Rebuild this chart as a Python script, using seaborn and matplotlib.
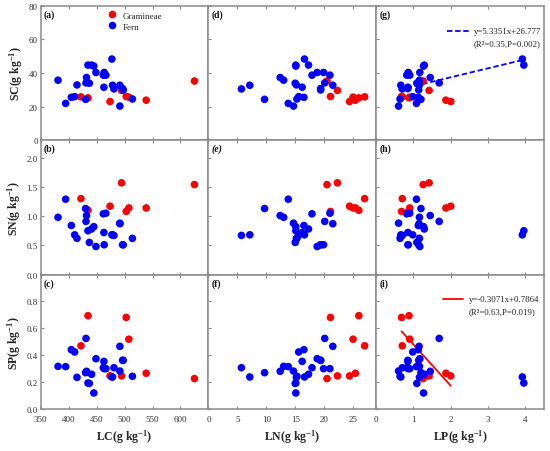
import numpy as np
import pandas as pd
import matplotlib
matplotlib.use("Agg")
import matplotlib.pyplot as plt
import seaborn as sns

# ---------------- data ----------------
# Gramineae samples
gram_LC = [422, 434.6, 474, 494.6, 503, 507.6, 538.7, 625]
gram_LN = [27.0, 26.0, 24.4, 22.3, 21.1, 25.0, 25.4, 20.5]
gram_LP = [0.70, 0.88, 2.00, 1.42, 0.68, 0.90, 1.87, 1.26]
gram_SC = [25.8, 25.2, 23.0, 29.6, 26.0, 25.6, 23.8, 35.2]
gram_SN = [1.30, 1.10, 1.17, 1.57, 1.08, 1.14, 1.14, 1.54]
gram_SP = [0.470, 0.694, 0.246, 0.246, 0.681, 0.519, 0.266, 0.226]

# Fern samples
fern_LC = [381, 394.6, 404.8, 410.7, 414.9, 430.3, 431, 432, 434.5, 437, 441, 445, 448.8,
           462, 463, 463.5, 466.6, 477.3, 478.5, 481, 491.6, 491.6, 496.4, 497.6, 514]
fern_LN = [13.0, 13.8, 16.5, 15.6, 15.2, 9.7, 20.1, 12.4, 15.1, 15.0, 17.3, 15.1, 18.8,
           17.9, 16.2, 19.9, 21.0, 16.6, 7.15, 5.7, 14.7, 21.5, 19.4, 19.4, 15.3]
fern_LP = [1.16, 1.08, 1.13, 0.98, 1.16, 1.20, 1.69, 1.45, 3.96, 1.09, 1.29, 1.27, 1.17,
           0.82, 0.85, 0.86, 0.90, 3.92, 0.66, 0.70, 0.60, 1.15, 0.85, 1.14, 0.64]
fern_SC = [35.7, 21.9, 25.5, 25.9, 32.9, 24.3, 34.1, 37.3, 44.7, 33.9, 44.7, 44.1, 40.3,
           38.7, 31.5, 40.3, 38.7, 48.3, 32.7, 30.5, 20.3, 32.7, 30.7, 29.9, 24.5]
fern_SN = [0.98, 1.29, 0.84, 0.68, 0.62, 1.13, 0.91, 1.01, 0.75, 0.55, 0.78, 0.82, 0.48,
           1.04, 0.72, 0.51, 1.05, 0.68, 0.68, 0.67, 0.88, 0.87, 0.51, 0.51, 0.62]
fern_SP = [0.317, 0.315, 0.441, 0.424, 0.235, 0.27, 0.525, 0.28, 0.193, 0.19, 0.258, 0.119, 0.374,
           0.307, 0.354, 0.30, 0.30, 0.238, 0.238, 0.307, 0.282, 0.466, 0.362, 0.362, 0.243]

groups = ["Gramineae", "Fern"]
group_colors = ["#ff0000", "#0000ff"]

# regression results printed in the figure
fit_g_slope, fit_g_icpt = 5.3351, 26.777     # Fern: SC ~ LP
fit_g_text = ["y=5.3351x+26.777", "(R\u00b2=0.35,P=0.002)"]
fit_i_slope, fit_i_icpt = -0.3071, 0.7864    # Gramineae: SP ~ LP
fit_i_text = ["y=-0.3071x+0.7864", "(R\u00b2=0.63,P=0.019)"]

x_vars = ["LC", "LN", "LP"]
y_vars = ["SC", "SN", "SP"]
x_labels = [r"LC(g kg$^{\mathbf{-1}}$)", r"LN(g kg$^{\mathbf{-1}}$)", r"LP(g kg$^{\mathbf{-1}}$)"]
y_labels = [r"SC(g kg$^{\mathbf{-1}}$)", r"SN(g kg$^{\mathbf{-1}}$)", r"SP(g kg$^{\mathbf{-1}}$)"]
panel_tags = [["(a)", "(d)", "(g)"], ["(b)", "(e)", "(h)"], ["(c)", "(f)", "(i)"]]

x_lims = [(350, 650), (0, 29), (0, 4.5)]
x_ticks = [[350, 400, 450, 500, 550, 600, 650], [0, 5, 10, 15, 20, 25], [0, 1, 2, 3, 4]]
y_lims = [(0, 80), (0, 2.3), (0, 1.0)]
y_ticks = [[0, 20, 40, 60, 80], [0.0, 0.5, 1.0, 1.5, 2.0], [0.0, 0.2, 0.4, 0.6, 0.8, 1.0]]

df = pd.concat([
    pd.DataFrame({"Group": groups[0], "LC": gram_LC, "LN": gram_LN, "LP": gram_LP,
                  "SC": gram_SC, "SN": gram_SN, "SP": gram_SP}),
    pd.DataFrame({"Group": groups[1], "LC": fern_LC, "LN": fern_LN, "LP": fern_LP,
                  "SC": fern_SC, "SN": fern_SN, "SP": fern_SP}),
], ignore_index=True)

# ---------------- style ----------------
sns.set_style("white")
plt.rcParams["font.family"] = ["Liberation Serif", "DejaVu Serif"]
plt.rcParams["mathtext.fontset"] = "custom"
plt.rcParams["mathtext.rm"] = "Liberation Serif"
plt.rcParams["mathtext.bf"] = "Liberation Serif:bold"
plt.rcParams["mathtext.it"] = "Liberation Serif:italic"

spine_c = "#8a8a8a"
tick_txt = "#333333"

fig, axes = plt.subplots(3, 3, figsize=(5.5, 4.52), dpi=100)
fig.subplots_adjust(left=0.074, right=0.989, top=0.985, bottom=0.093, wspace=0, hspace=0)

palette = dict(zip(groups, group_colors))

for r in range(3):
    for c in range(3):
        ax = axes[r, c]
        sns.scatterplot(data=df, x=x_vars[c], y=y_vars[r], hue="Group", palette=palette,
                        hue_order=groups, s=30, linewidth=0, alpha=1, ax=ax,
                        legend=(r == 0 and c == 0), zorder=3)
        ax.set_xlim(*x_lims[c])
        ax.set_ylim(*y_lims[r])
        ax.set_xticks(x_ticks[c])
        ax.set_yticks(y_ticks[r])
        for s in ax.spines.values():
            s.set_color(spine_c)
            s.set_linewidth(1.1)
            s.set_visible(True)
        ax.tick_params(axis="both", which="both", direction="in", length=2.5, width=0.8,
                       color=spine_c, labelsize=6.5, labelcolor=tick_txt, pad=2)
        ax.tick_params(axis="x", top=True, bottom=True, pad=4.5)
        ax.tick_params(axis="y", left=True, right=False)
        ax.set_xlabel("")
        ax.set_ylabel("")
        # tick labels only on outer panels
        if r == 2:
            labs = []
            for t in x_ticks[c]:
                if c == 0 and t == 650:
                    labs.append("")
                else:
                    labs.append(f"{t:g}")
            ax.set_xticklabels(labs)
            ax.set_xlabel(x_labels[c], fontsize=8.5, fontweight="bold", labelpad=3)
        else:
            ax.set_xticklabels([])
        if c == 0:
            if r == 0:
                labs = [f"{t:g}" for t in y_ticks[r]]
            else:
                labs = [f"{t:.1f}" for t in y_ticks[r]]
                if r == 2:
                    labs[-1] = ""
            ax.set_yticklabels(labs)
            ax.set_ylabel(y_labels[r], fontsize=8.5, fontweight="bold", labelpad=3)
        else:
            ax.set_yticklabels([])
        ax.text(0.02, 0.975, panel_tags[r][c], transform=ax.transAxes, ha="left", va="top",
                fontsize=7, fontweight="bold", color="#111111",
                style=("italic" if panel_tags[r][c] == "(e)" else "normal"))

# legend in panel (a)
ax = axes[0, 0]
h, l = ax.get_legend_handles_labels()
ax.legend(h, l, loc="upper left", bbox_to_anchor=(0.36, 1.0), frameon=False, fontsize=6.5,
          handletextpad=0.6, labelspacing=0.3, borderaxespad=0.2, handlelength=1.2,
          markerscale=1.0)

# regression line (g): Fern SC vs LP
ax = axes[0, 2]
xf = np.array([min(fern_LP), max(fern_LP)])
ax.plot(xf, fit_g_slope * xf + fit_g_icpt, color="#0000ff", ls=(0, (3, 1.5)), lw=1.3, zorder=2)
ax.plot([0.42, 0.56], [0.812, 0.812], transform=ax.transAxes, color="#0000ff",
        ls=(0, (3, 1.5)), lw=1.3)
ax.text(0.58, 0.812, fit_g_text[0], transform=ax.transAxes, fontsize=6.3, va="center", color="#222222")
ax.text(0.58, 0.72, fit_g_text[1], transform=ax.transAxes, fontsize=6.3, va="center", color="#222222")

# regression line (i): Gramineae SP vs LP
ax = axes[2, 2]
xg = np.array([min(gram_LP), max(gram_LP)])
ax.plot(xg, fit_i_slope * xg + fit_i_icpt, color="#ff0000", lw=1.3, zorder=2)
ax.plot([0.40, 0.52], [0.82, 0.82], transform=ax.transAxes, color="#ff0000", lw=1.3)
ax.text(0.55, 0.82, fit_i_text[0], transform=ax.transAxes, fontsize=6.3, va="center", color="#222222")
ax.text(0.55, 0.725, fit_i_text[1], transform=ax.transAxes, fontsize=6.3, va="center", color="#222222")

fig.savefig("out.png", dpi=100)
